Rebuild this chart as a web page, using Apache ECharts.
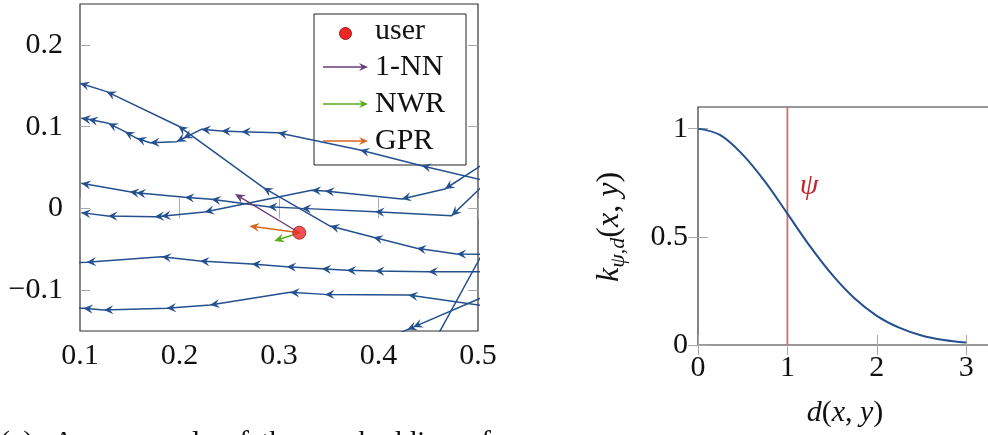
<!DOCTYPE html>
<html>
<head>
<meta charset="utf-8">
<script src="https://cdn.jsdelivr.net/npm/echarts@6/dist/echarts.min.js"></script>
<style>
html,body{margin:0;padding:0;background:#ffffff;}
#chart{width:988px;height:435px;}
</style>
</head>
<body>
<div id="chart"></div>
<script>
// ---------- data ----------
// trajectories, listed in travel order (right to left)
const trajA = [[0.52,-0.0563],[0.4786,-0.0558],[0.4384,-0.0489],[0.3948,-0.0354],[0.3513,-0.0216],[0.2843,0.0253],[0.1988,0.1008],[0.1268,0.1428],[0.1,0.153]];
const trajB = [[0.52,0.0303],[0.4434,0.0522],[0.3814,0.0714],[0.299,0.0926],[0.2621,0.0938],[0.242,0.0946],[0.2219,0.0967],[0.2038,0.0857],[0.1972,0.0816],[0.1704,0.0803],[0.157,0.0857],[0.1452,0.0938],[0.1285,0.104],[0.1084,0.109],[0.1013,0.1101]];
const trajC = [[0.52,0.0453],[0.4735,-0.0089],[0.3965,-0.004],[0.3228,0.0],[0.2889,0.0021],[0.232,0.0111],[0.2052,0.0135],[0.1566,0.0192],[0.1499,0.0204],[0.1013,0.0306]];
const trajD = [[0.52,0.066],[0.4987,0.049],[0.4668,0.0237],[0.4233,0.0115],[0.3462,0.0213],[0.3328,0.0221],[0.2253,-0.0044],[0.1817,-0.0097],[0.175,-0.0101],[0.1281,-0.0093],[0.1013,-0.0052]];
const trajE = [[0.52,-0.0774],[0.4501,-0.0774],[0.3965,-0.0766],[0.368,-0.0758],[0.3429,-0.0738],[0.3077,-0.0713],[0.2725,-0.068],[0.2206,-0.0644],[0.1821,-0.0591],[0.1067,-0.066],[0.09,-0.0667]];
const trajF = [[0.52,-0.1215],[0.43,-0.106],[0.3462,-0.1052],[0.3111,-0.1027],[0.2307,-0.1182],[0.1871,-0.1223],[0.124,-0.1243],[0.1034,-0.1223],[0.09,-0.1223]];
const trajG = [[0.52,-0.1006],[0.435,-0.1452],[0.429,-0.1483],[0.40,-0.164]];
const trajH = [[0.52,-0.0208],[0.44,-0.1985]];
const trajectories = [trajA, trajB, trajC, trajD, trajE, trajF, trajG, trajH];

const userPoint = [0.3204, -0.0298];
const nnTarget  = [0.2558, 0.0176];
const nwrTarget = [0.2953, -0.0399];
const gprTarget = [0.2702, -0.0216];

const leftXTicks = [0.1, 0.2, 0.3, 0.4, 0.5];
const leftYTicks = [-0.1, 0, 0.1, 0.2];

const kernelD = [0, 0.25, 0.5, 0.75, 1, 1.25, 1.5, 1.75, 2, 2.25, 2.5, 2.75, 3];
const kernelK = [1.00, 0.97, 0.88, 0.755, 0.607, 0.458, 0.325, 0.216, 0.135, 0.080, 0.044, 0.023, 0.011];
const psiLine = [[1, 0], [1, 1.1]];
const rightXTicks = [0, 1, 2, 3];
const rightYTicks = [0, 0.5, 1];

// ---------- styles ----------
const FONT = 'Liberation Serif';
const FS = 30;
const BLUE = '#24508f';
const RED_LINE = '#d06b6b';
const PSI_RED = '#c0282e';
const NN_COL = '#6a3f78';
const NWR_COL = '#5aaa1c';
const GPR_COL = '#d9661f';
const TICK_COL = '#a8a8a8';

function fmt(v) {
  const a = Math.round(Math.abs(v) * 100) / 100;
  return (v < 0 ? '\u2212' : '') + String(a);
}

function headPts(tip, ang, len, hw, notch) {
  const c = Math.cos(ang), s = Math.sin(ang);
  const pt = (u, v) => [tip[0] + u * c - v * s, tip[1] + u * s + v * c];
  return [pt(0, 0), pt(-len, -hw), pt(-len + notch, 0), pt(-len, hw)];
}

function inside(p, cs) {
  return p[0] >= cs.x - 0.5 && p[0] <= cs.x + cs.width + 0.5 && p[1] >= cs.y - 0.5 && p[1] <= cs.y + cs.height + 0.5;
}

const headData = [];
trajectories.forEach(t => {
  for (let i = 1; i < t.length; i++) headData.push([t[i][0], t[i][1], t[i - 1][0], t[i - 1][1]]);
});

function axisCommon(extra) {
  return Object.assign({
    type: 'value',
    splitLine: { show: false },
    axisLine: { show: false },
  }, extra);
}

const labelStyle = { fontFamily: FONT, fontSize: FS, color: '#111' };
const tickStyle = { color: TICK_COL, width: 1 };

const xAxes = [
  axisCommon({ gridIndex: 0, min: 0.1, max: 0.5, position: 'bottom',
    axisTick: { show: true, inside: true, length: 10, lineStyle: tickStyle, customValues: leftXTicks },
    axisLabel: Object.assign({ show: true, margin: 10, customValues: leftXTicks, formatter: fmt }, labelStyle) }),
  axisCommon({ gridIndex: 0, min: 0.1, max: 0.5, position: 'top',
    axisTick: { show: true, inside: true, length: 10, lineStyle: tickStyle, customValues: leftXTicks },
    axisLabel: { show: false } }),
  axisCommon({ gridIndex: 1, min: 0, max: 3.3, position: 'bottom',
    axisTick: { show: true, inside: true, length: 10, lineStyle: tickStyle, customValues: rightXTicks },
    axisLabel: Object.assign({ show: true, margin: 8, customValues: rightXTicks, formatter: fmt }, labelStyle) }),
  axisCommon({ gridIndex: 1, min: 0, max: 3.3, position: 'top',
    axisTick: { show: true, inside: true, length: 10, lineStyle: tickStyle, customValues: rightXTicks },
    axisLabel: { show: false } })
];
const yAxes = [
  axisCommon({ gridIndex: 0, min: -0.15, max: 0.25, position: 'left',
    axisTick: { show: true, inside: true, length: 10, lineStyle: tickStyle, customValues: leftYTicks },
    axisLabel: Object.assign({ show: true, margin: 17, customValues: leftYTicks, formatter: fmt }, labelStyle) }),
  axisCommon({ gridIndex: 0, min: -0.15, max: 0.25, position: 'right',
    axisTick: { show: true, inside: true, length: 10, lineStyle: tickStyle, customValues: leftYTicks },
    axisLabel: { show: false } }),
  axisCommon({ gridIndex: 1, min: 0, max: 1.1, position: 'left',
    axisTick: { show: true, inside: true, length: 10, lineStyle: tickStyle, customValues: rightYTicks },
    axisLabel: Object.assign({ show: true, margin: 10, customValues: rightYTicks, formatter: fmt }, labelStyle) }),
  axisCommon({ gridIndex: 1, min: 0, max: 1.1, position: 'right',
    axisTick: { show: true, inside: true, length: 10, lineStyle: tickStyle, customValues: rightYTicks },
    axisLabel: { show: false } })
];

const series = [];
trajectories.forEach((t, i) => {
  series.push({
    type: 'line', name: 'traj' + i, xAxisIndex: 0, yAxisIndex: 0,
    data: t, showSymbol: false, symbol: 'none', clip: true, silent: true,
    lineStyle: { color: BLUE, width: 1.5 }, z: 2, animation: false
  });
});
series.push({
  type: 'custom', name: 'heads', xAxisIndex: 0, yAxisIndex: 0, clip: true, silent: true,
  data: headData, encode: { x: 0, y: 1 }, z: 3, animation: false,
  renderItem: function (params, api) {
    const p = api.coord([api.value(0), api.value(1)]);
    const q = api.coord([api.value(2), api.value(3)]);
    if (!inside(p, params.coordSys)) return null;
    const ang = Math.atan2(p[1] - q[1], p[0] - q[0]);
    return { type: 'polygon', shape: { points: headPts(p, ang, 9.5, 4.6, 3.6) }, style: { fill: BLUE } };
  }
});
function predSeries(name, target, color) {
  return {
    type: 'custom', name: name, xAxisIndex: 0, yAxisIndex: 0, clip: true, silent: true,
    data: [[userPoint[0], userPoint[1], target[0], target[1]]], encode: { x: 0, y: 1 }, z: 4, animation: false,
    renderItem: function (params, api) {
      const u = api.coord([api.value(0), api.value(1)]);
      const t = api.coord([api.value(2), api.value(3)]);
      const ang = Math.atan2(t[1] - u[1], t[0] - u[0]);
      const endL = [t[0] - 4 * Math.cos(ang), t[1] - 4 * Math.sin(ang)];
      return { type: 'group', children: [
        { type: 'line', shape: { x1: u[0], y1: u[1], x2: endL[0], y2: endL[1] }, style: { stroke: color, lineWidth: 1.4 } },
        { type: 'polygon', shape: { points: headPts(t, ang, 10, 4.5, 3.5) }, style: { fill: color } }
      ] };
    }
  };
}
series.push(predSeries('1-NN', nnTarget, NN_COL));
series.push(predSeries('NWR', nwrTarget, NWR_COL));
series.push(predSeries('GPR', gprTarget, GPR_COL));
series.push({
  type: 'scatter', name: 'user', xAxisIndex: 0, yAxisIndex: 0, data: [userPoint],
  symbol: 'circle', symbolSize: 13, z: 6, silent: true, animation: false,
  itemStyle: { color: '#ee2626', borderColor: '#9b1b1b', borderWidth: 1 }
});
// right panel
series.push({
  type: 'line', name: 'psi', xAxisIndex: 2, yAxisIndex: 2, data: psiLine,
  showSymbol: false, symbol: 'none', silent: true, animation: false,
  lineStyle: { color: RED_LINE, width: 1.8 }, z: 2
});
series.push({
  type: 'line', name: 'kernel', xAxisIndex: 2, yAxisIndex: 2,
  data: kernelD.map((d, i) => [d, kernelK[i]]),
  smooth: 0.35, showSymbol: false, symbol: 'none', silent: true, animation: false,
  lineStyle: { color: BLUE, width: 2 }, z: 3
});

// legend (drawn as graphic, inside left panel)
const legendRows = [
  { name: 'user', y: 33.5, textY: 31 },
  { name: '1-NN', y: 67, textY: 67.5, color: NN_COL },
  { name: 'NWR', y: 104, textY: 104.5, color: NWR_COL },
  { name: 'GPR', y: 141, textY: 141.5, color: GPR_COL }
];
const legendChildren = [
  { type: 'rect', shape: { x: 314, y: 14, width: 152, height: 151 }, style: { fill: '#fff', stroke: '#222', lineWidth: 1 } },
  { type: 'circle', shape: { cx: 345.5, cy: 33.5, r: 6 }, style: { fill: '#ee2626', stroke: '#9b1b1b', lineWidth: 1 } }
];
legendRows.forEach(r => {
  if (r.color) {
    legendChildren.push({ type: 'line', shape: { x1: 323, y1: r.y, x2: 364, y2: r.y }, style: { stroke: r.color, lineWidth: 1.4 } });
    legendChildren.push({ type: 'polygon', shape: { points: headPts([368, r.y], 0, 9, 4, 3) }, style: { fill: r.color } });
  }
  legendChildren.push({ type: 'text', x: 375, y: r.textY, style: { text: r.name, fontFamily: FONT, fontSize: FS, fill: '#111', align: 'left', verticalAlign: 'middle' } });
});

const richBase = {
  i: { fontFamily: FONT, fontSize: 32, fontStyle: 'italic', fill: '#111', lineHeight: 38, verticalAlign: 'middle' },
  n: { fontFamily: FONT, fontSize: 32, fill: '#111', lineHeight: 38, verticalAlign: 'middle' },
  s: { fontFamily: FONT, fontSize: 22, fontStyle: 'italic', fill: '#111', lineHeight: 38, verticalAlign: 'bottom' }
};
const richX = {
  i: { fontFamily: FONT, fontSize: FS, fontStyle: 'italic', fill: '#111', lineHeight: 36, verticalAlign: 'middle' },
  n: { fontFamily: FONT, fontSize: FS, fill: '#111', lineHeight: 36, verticalAlign: 'middle' }
};

const captionWords = [
  { t: '(a)', x: 0 }, { t: 'An', x: 53 }, { t: 'example', x: 112 }, { t: 'of', x: 224 },
  { t: 'the', x: 261 }, { t: 'embedding', x: 322 }, { t: 'of', x: 466 }
];

const graphic = [
  { type: 'group', z: 100, children: legendChildren },
  { type: 'text', x: 809, y: 186, z: 50, style: { text: '\u03C8', fontFamily: FONT, fontSize: FS, fontStyle: 'italic', fill: PSI_RED, align: 'center', verticalAlign: 'middle' } },
  { type: 'text', x: 610, y: 227, rotation: Math.PI / 2, z: 50, style: {
      text: '{i|k}{s|\u03C8,d}{n|(}{i|x}{n|, }{i|y}{n|)}', rich: richBase, align: 'center', verticalAlign: 'middle' } },
  { type: 'text', x: 845, y: 413, z: 50, style: {
      text: '{i|d}{n|(}{i|x}{n|, }{i|y}{n|)}', rich: richX, align: 'center', verticalAlign: 'middle' } }
];
captionWords.forEach(w => {
  graphic.push({ type: 'text', x: w.x, y: 443, z: 50, style: { text: w.t, fontFamily: FONT, fontSize: FS, fill: '#111', align: 'left', verticalAlign: 'middle' } });
});

const chart = echarts.init(document.getElementById('chart'), null, { renderer: 'canvas' });
chart.setOption({
  animation: false,
  backgroundColor: '#ffffff',
  grid: [
    { left: 80, top: 4, width: 398, height: 327, show: true, borderColor: '#333', borderWidth: 1.2, backgroundColor: 'transparent', containLabel: false, outerBoundsMode: 'none' },
    { left: 698, top: 107, width: 295, height: 238, show: true, borderColor: '#333', borderWidth: 1.2, backgroundColor: 'transparent', containLabel: false, outerBoundsMode: 'none' }
  ],
  xAxis: xAxes,
  yAxis: yAxes,
  series: series,
  graphic: graphic
});
</script>
</body>
</html>
